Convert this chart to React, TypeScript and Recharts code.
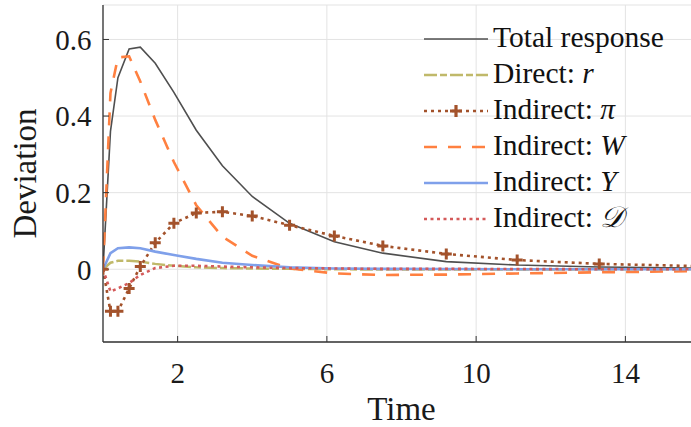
import React from 'react';
import { LineChart, Line, XAxis, YAxis, CartesianGrid, Legend, Label } from 'recharts';

// ---- data ----
const time = [0, 0.2, 0.4, 0.7, 1.0, 1.4, 1.9, 2.5, 3.2, 4.0, 5.0, 6.2, 7.5, 9.2, 11.1, 13.3, 16];
const totalResponse = [0, 0.36, 0.5, 0.575, 0.58, 0.538, 0.462, 0.363, 0.27, 0.19, 0.12, 0.072, 0.042, 0.02, 0.011, 0.006, 0.003];
const directR = [0, 0.017, 0.022, 0.022, 0.02, 0.014, 0.009, 0.005, 0.003, 0.002, 0.001, 0.0, -0.001, -0.001, -0.001, 0, 0];
const indirectPi = [0, -0.11, -0.11, -0.05, 0.007, 0.069, 0.12, 0.147, 0.15, 0.139, 0.115, 0.087, 0.061, 0.04, 0.024, 0.014, 0.008];
const indirectW = [0, 0.46, 0.553, 0.556, 0.49, 0.39, 0.28, 0.167, 0.085, 0.035, 0.002, -0.011, -0.015, -0.014, -0.011, -0.008, -0.005];
const indirectY = [0, 0.042, 0.055, 0.057, 0.055, 0.046, 0.037, 0.027, 0.017, 0.011, 0.005, 0.002, 0.001, 0.0005, 0, 0, 0];
const indirectD = [0, -0.058, -0.05, -0.036, -0.015, 0.003, 0.009, 0.009, 0.007, 0.005, 0.003, 0.002, 0.001, 0.001, 0.0005, 0, 0];

const xTicks = [2, 6, 10, 14];
const yTicks = [0, 0.2, 0.4, 0.6];
const xDomain = [0, 16];
const yDomain = [-0.19, 0.69];

const legendNames = ['Total response', 'Direct: ', 'Indirect: ', 'Indirect: ', 'Indirect: ', 'Indirect: '];
const legendSymbols = ['', 'r', 'π', 'W', 'Y', '𝒟'];

const data = time.map((t, i) => ({
  t,
  total: totalResponse[i],
  r: directR[i],
  pi: indirectPi[i],
  W: indirectW[i],
  Y: indirectY[i],
  D: indirectD[i],
}));

// ---- styles ----
const FONT = 'Liberation Serif';
const fontCss = { fontFamily: FONT };
const globalCss = `
html body #root .chart-root, html body #root .chart-root * ,
html body #root .chart-root text, html body #root .chart-root tspan,
html body #root .chart-root .recharts-wrapper text,
html body #root .chart-root .recharts-text,
html body #root .chart-root .recharts-cartesian-axis-tick-value {
  font-family: 'Liberation Serif' !important;
}
`;

const series = [
  { key: 'total', color: '#4f4f4f', width: 1.6, dash: undefined as string | undefined, marker: false },
  { key: 'r', color: '#c0b96a', width: 2.5, dash: '13 3 7 3', marker: false },
  { key: 'pi', color: '#a3522b', width: 2.6, dash: '3 4', marker: true },
  { key: 'W', color: '#ff8040', width: 2.6, dash: '13 11', marker: false },
  { key: 'Y', color: '#7fa0ea', width: 2.6, dash: undefined, marker: false },
  { key: 'D', color: '#d45a5a', width: 2.6, dash: '3 3.5', marker: false },
];

const Plus = (props: any) => {
  const { cx, cy, index, stroke } = props;
  if (cx == null || cy == null) return <g key={`n-${index}`} />;
  const s = 5.5;
  return (
    <path
      key={`p-${index}`}
      d={`M${cx - s},${cy}H${cx + s}M${cx},${cy - s}V${cy + s}`}
      stroke={stroke}
      strokeWidth={3}
      fill="none"
    />
  );
};

const LegendContent = () => (
  <svg width={270} height={230} style={{ display: 'block', overflow: 'visible' }}>
    {series.map((s, i) => {
      const y = 19 + i * 36;
      return (
        <g key={s.key}>
          <line x1={4} x2={68} y1={y} y2={y} stroke={s.color} strokeWidth={s.width} strokeDasharray={s.dash} />
          {s.marker && (
            <path d={`M${30},${y}H${42}M${36},${y - 6}V${y + 6}`} stroke={s.color} strokeWidth={3.2} fill="none" />
          )}
          <text x={73} y={y + 8} fontFamily={FONT} style={fontCss} fontSize={29.5} fill="#111">
            {legendNames[i]}
            {legendSymbols[i] && <tspan fontStyle="italic">{legendSymbols[i]}</tspan>}
          </text>
        </g>
      );
    })}
  </svg>
);

const axisColor = '#333333';
const tickStyle = { fill: '#1a1a1a', fontSize: 29, fontFamily: FONT, style: fontCss };

export default function App() {
  return (
    <div
      className="chart-root"
      style={{
        position: 'absolute',
        left: 0,
        top: 0,
        width: 691,
        height: 427,
        overflow: 'hidden',
        background: '#fff',
        fontFamily: FONT,
      }}
    >
      <style>{globalCss}</style>
      <LineChart width={700} height={427} data={data} margin={{ top: 5, right: 0, bottom: 0, left: 0 }} style={fontCss}>
        <CartesianGrid xAxisId="b" stroke="#e3e3e3" strokeWidth={1} />
        <XAxis
          xAxisId="b"
          dataKey="t"
          type="number"
          domain={xDomain}
          ticks={xTicks}
          interval={0}
          allowDataOverflow
          height={85}
          tickSize={-6}
          tickMargin={26}
          axisLine={{ stroke: axisColor, strokeWidth: 1.3 }}
          tickLine={{ stroke: axisColor, strokeWidth: 1 }}
          tick={tickStyle}
        >
          <Label
            content={(p: any) => {
              const vb = p.viewBox || {};
              return (
                <text
                  x={vb.x + vb.width / 2}
                  y={vb.y + 78}
                  textAnchor="middle"
                  fontFamily={FONT}
                  style={fontCss}
                  fontSize={33}
                  fill="#1a1a1a"
                >
                  Time
                </text>
              );
            }}
          />
        </XAxis>
        <XAxis
          xAxisId="t"
          orientation="top"
          dataKey="t"
          type="number"
          domain={xDomain}
          ticks={xTicks}
          interval={0}
          allowDataOverflow
          height={0}
          tickSize={-6}
          tick={false}
          axisLine={{ stroke: axisColor, strokeWidth: 1.3 }}
          tickLine={{ stroke: axisColor, strokeWidth: 1 }}
        />
        <YAxis
          type="number"
          domain={yDomain}
          ticks={yTicks}
          interval={0}
          allowDataOverflow
          width={103}
          tickSize={-6}
          tickMargin={17.5}
          axisLine={{ stroke: axisColor, strokeWidth: 1.3 }}
          tickLine={{ stroke: axisColor, strokeWidth: 1 }}
          tick={tickStyle}
          tickFormatter={(v: number) => String(v)}
        >
          <Label
            content={(p: any) => {
              const vb = p.viewBox || {};
              const cx = vb.x + 25;
              const cy = vb.y + vb.height / 2;
              return (
                <text
                  x={cx}
                  y={cy}
                  transform={`rotate(-90 ${cx} ${cy})`}
                  textAnchor="middle"
                  dominantBaseline="central"
                  fontFamily={FONT}
                  style={fontCss}
                  fontSize={33}
                  fill="#1a1a1a"
                >
                  Deviation
                </text>
              );
            }}
          />
        </YAxis>
        <Legend
          layout="vertical"
          align="center"
          verticalAlign="middle"
          content={LegendContent}
          wrapperStyle={{ left: 420, top: 20, width: 270 }}
        />
        {series.map((s) => (
          <Line
            key={s.key}
            xAxisId="b"
            dataKey={s.key}
            type="linear"
            stroke={s.color}
            strokeWidth={s.width}
            strokeDasharray={s.dash}
            dot={s.marker ? (props: any) => <Plus {...props} stroke={s.color} /> : false}
            activeDot={false}
            isAnimationActive={false}
          />
        ))}
      </LineChart>
    </div>
  );
}
